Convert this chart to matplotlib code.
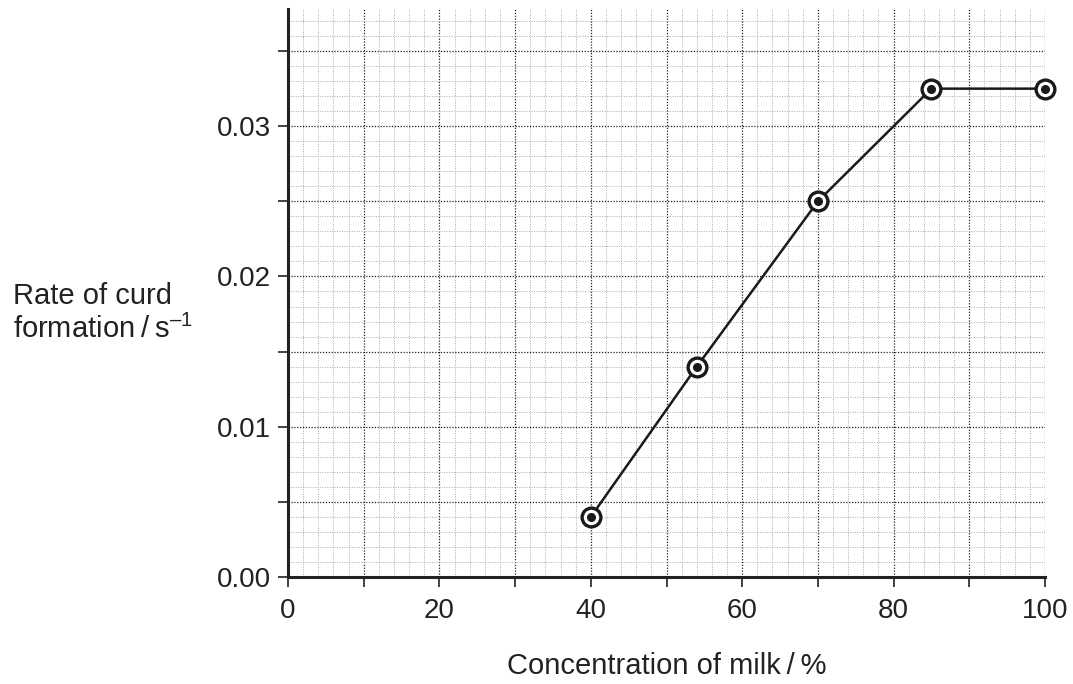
import numpy as np
import matplotlib
matplotlib.use('Agg')
import matplotlib.pyplot as plt
from matplotlib.ticker import MultipleLocator, FixedLocator

plt.rcParams['font.family'] = ['Liberation Sans', 'DejaVu Sans']
plt.rcParams['mathtext.fontset'] = 'custom'
plt.rcParams['mathtext.rm'] = 'Liberation Sans'

# data
concentration = [40, 54, 70, 85, 100]
rate = [0.004, 0.014, 0.025, 0.0325, 0.0325]

x_ticks = [0, 10, 20, 30, 40, 50, 60, 70, 80, 90, 100]
x_labels = ['0', '', '20', '', '40', '', '60', '', '80', '', '100']
y_ticks = [0.0, 0.005, 0.01, 0.015, 0.02, 0.025, 0.03, 0.035]
y_labels = ['0.00', '', '0.01', '', '0.02', '', '0.03', '']

fig = plt.figure(figsize=(10.73, 6.84), dpi=100)
ax = fig.add_axes([288/1073, 107/684, (1045-288)/1073, (577-9)/684])

ax.set_xlim(0, 100)
ax.set_ylim(0, 0.0378)

ax.xaxis.set_major_locator(FixedLocator(x_ticks))
ax.xaxis.set_minor_locator(MultipleLocator(2))
ax.yaxis.set_major_locator(FixedLocator(y_ticks))
ax.yaxis.set_minor_locator(MultipleLocator(0.001))
ax.set_xticklabels(x_labels)
ax.set_yticklabels(y_labels)

ax.grid(which='minor', color='#aaaaaa', linestyle=(0, (1, 1.5)), linewidth=0.7)
ax.grid(which='major', color='#222222', linestyle=(0, (1, 1.3)), linewidth=0.9)
ax.set_axisbelow(True)

ax.tick_params(which='major', direction='out', length=7, width=1.2,
               labelsize=20, color='#222222', labelcolor='#222222')
ax.tick_params(axis='x', which='major', pad=8)
ax.tick_params(axis='y', which='major', pad=5)
ax.tick_params(which='minor', length=0)

for side in ['top', 'right']:
    ax.spines[side].set_visible(False)
for side in ['left', 'bottom']:
    ax.spines[side].set_linewidth(2.2)
    ax.spines[side].set_color('#222222')

ax.plot(concentration, rate, color='#1a1a1a', linewidth=1.8, zorder=3)
ax.plot(concentration, rate, linestyle='none', marker='o', markersize=13.5,
        markerfacecolor='white', markeredgecolor='#1a1a1a', markeredgewidth=2.4,
        zorder=4, clip_on=False)
ax.plot(concentration, rate, linestyle='none', marker='o', markersize=5.5,
        color='#1a1a1a', zorder=5, clip_on=False)

fig.text(13/1073, 1 - 313/684, 'Rate of curd\nformation\u2009/\u2009s$^{\u2013 1}$',
         ha='left', va='center', fontsize=21, color='#222222', linespacing=1.2)
fig.text(667/1073, 1 - 666/684, 'Concentration of milk\u2009/\u2009%',
         ha='center', va='center', fontsize=21, color='#222222')

fig.savefig('out.png', dpi=100)
